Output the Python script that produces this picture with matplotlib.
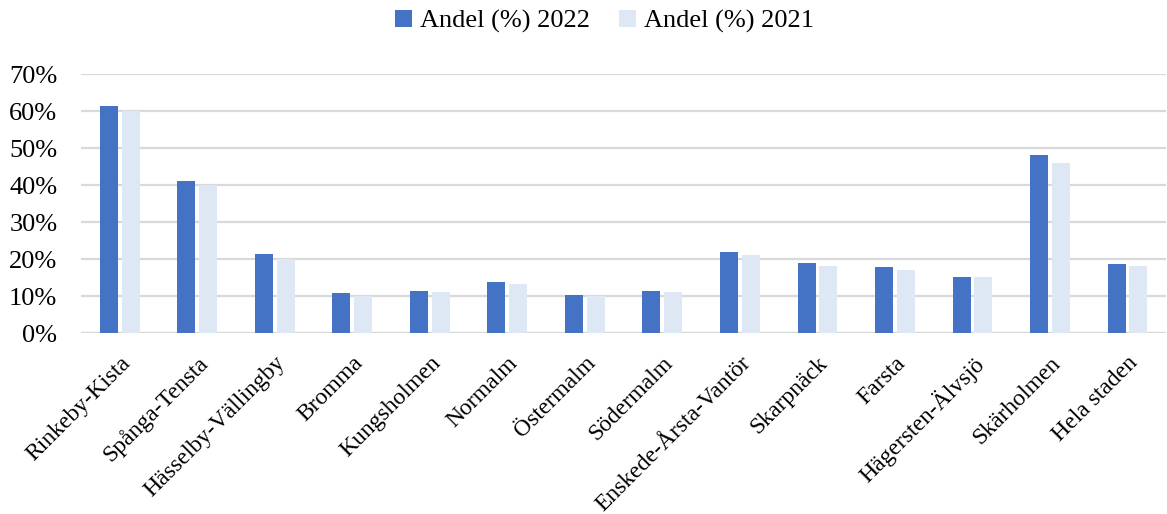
import numpy as np
import matplotlib
matplotlib.use("Agg")
import matplotlib.pyplot as plt
from matplotlib.ticker import PercentFormatter

# data
districts = ["Rinkeby-Kista", "Spånga-Tensta", "Hässelby-Vällingby", "Bromma",
             "Kungsholmen", "Normalm", "Östermalm", "Södermalm",
             "Enskede-Årsta-Vantör", "Skarpnäck", "Farsta", "Hägersten-Älvsjö",
             "Skärholmen", "Hela staden"]
andel_2022 = [61.3, 41.0, 21.5, 10.7, 11.5, 13.7, 10.2, 11.3, 21.8, 18.8, 17.8, 15.1, 48.1, 18.6]
andel_2021 = [60.0, 40.0, 19.9, 10.0, 11.0, 13.2, 9.9, 11.0, 21.0, 18.0, 17.0, 15.1, 45.9, 18.0]
series_labels = ["Andel (%) 2022", "Andel (%) 2021"]

plt.rcParams['font.family'] = ['Liberation Serif', 'DejaVu Serif']

fig = plt.figure(figsize=(11.67, 5.14), dpi=100)
ax = fig.add_axes([0.0694, 0.352, 0.93, 0.504])

x = np.arange(len(districts))
w = 0.232
gap = 0.05
ax.bar(x - (w + gap) / 2, andel_2022, width=w, color='#4472c4', label=series_labels[0], zorder=3)
ax.bar(x + (w + gap) / 2, andel_2021, width=w, color='#dde8f4', label=series_labels[1], zorder=3)

ax.set_xlim(-0.5, len(districts) - 0.5)
ax.set_ylim(0, 70)
ax.set_yticks(np.arange(0, 71, 10))
ax.yaxis.set_major_formatter(PercentFormatter(decimals=0))
ax.grid(axis='y', color='#d9d9d9', linewidth=1.6, zorder=0)
for s in ['top', 'right', 'left', 'bottom']:
    ax.spines[s].set_visible(False)
ax.axhline(0, color='#d9d9d9', linewidth=1.6, zorder=2)

ax.set_xticks(x)
ax.set_xticklabels(districts, rotation=45, ha='right', rotation_mode='anchor', fontsize=17)
ax.tick_params(axis='x', length=0, pad=14)
ax.tick_params(axis='y', length=0, pad=17, labelsize=19)

fig.legend(loc='upper center', bbox_to_anchor=(0.518, 1.027), ncol=2, frameon=False,
           fontsize=19, handlelength=0.65, handleheight=0.65, handletextpad=0.3,
           columnspacing=1.1)

fig.savefig("out.png", dpi=100)
